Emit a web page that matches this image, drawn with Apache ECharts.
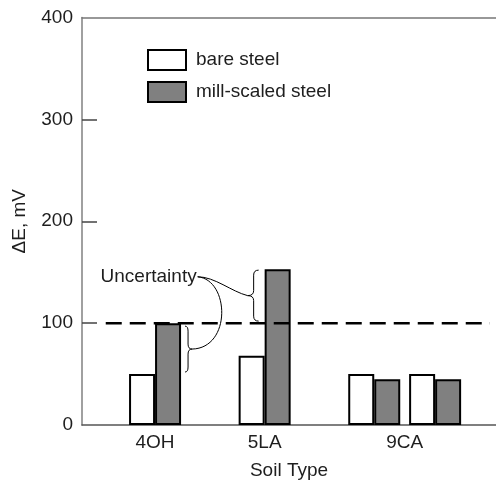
<!DOCTYPE html>
<html>
<head>
<meta charset="utf-8">
<script src="https://cdn.jsdelivr.net/npm/echarts@6/dist/echarts.min.js"></script>
<style>
  html, body { margin: 0; padding: 0; background: #fff; }
  #chart { width: 496px; height: 485px; }
</style>
</head>
<body>
<div id="chart"></div>
<script>
// Soil types and where their labels sit along the x scale
const soilTypes = ['4OH', '5LA', '9CA'];
const soilLabelPos = [6, 15, 26.5];

// Bar pairs (two pairs were measured for 9CA)
const barPos = [6, 15, 24, 29];
const bareSteel = [50, 68, 50, 50];
const millScaledSteel = [100, 153, 45, 45];

// Y-axis scale
const yMin = 0;
const yMax = 400;
const yStep = 100;
const yTickMarks = [100, 200, 300];

// Criterion line and its horizontal extent on the x scale
const criterion = 100;
const criterionSpan = [1.95, 33.5];

// Uncertainty ranges marked with braces: [bar position, low, high]
const uncert5LA = [15, 100, 153];
const uncert4OH = [6, 52, 100];

const FONT = '"Liberation Sans", Arial, Helvetica, sans-serif';
const TXT = '#1e1e1e';

const chart = echarts.init(document.getElementById('chart'), null, { renderer: 'canvas' });

chart.setOption({
  animation: false,
  backgroundColor: '#fff',
  textStyle: { fontFamily: FONT },
  grid: { left: 82, right: 0, top: 17.5, bottom: 58.3, containLabel: false },
  legend: {
    orient: 'vertical',
    left: 147,
    top: 49,
    padding: 0,
    icon: 'rect',
    itemWidth: 38,
    itemHeight: 20,
    itemGap: 10,
    selectedMode: false,
    textStyle: { fontSize: 19, color: TXT, fontFamily: FONT, padding: [0, 0, 0, 5] },
    data: ['bare steel', 'mill-scaled steel']
  },
  xAxis: [
    {
      type: 'value',
      min: 0,
      max: 34,
      position: 'bottom',
      splitLine: { show: false },
      axisTick: { show: false },
      axisLine: { show: true, lineStyle: { color: '#555', width: 1.5 } },
      axisLabel: {
        customValues: soilLabelPos,
        formatter: function (v) {
          const i = soilLabelPos.indexOf(v);
          return i >= 0 ? soilTypes[i] : '';
        },
        fontSize: 19,
        color: TXT,
        fontFamily: FONT,
        margin: 8
      },
      name: 'Soil Type',
      nameLocation: 'middle',
      nameGap: 36,
      nameTextStyle: { fontSize: 19, color: TXT, fontFamily: FONT }
    },
    {
      type: 'value',
      min: 0,
      max: 34,
      position: 'top',
      splitLine: { show: false },
      axisTick: { show: false },
      axisLabel: { show: false },
      axisLine: { show: true, lineStyle: { color: '#777', width: 1.5 } }
    }
  ],
  yAxis: {
    type: 'value',
    min: yMin,
    max: yMax,
    interval: yStep,
    splitLine: { show: false },
    axisLine: { show: true, lineStyle: { color: '#808080', width: 1.5 } },
    axisTick: {
      show: true,
      inside: true,
      length: 15,
      customValues: yTickMarks,
      lineStyle: { color: '#444', width: 1.5 }
    },
    axisLabel: { fontSize: 19, color: TXT, fontFamily: FONT, margin: 9 },
    name: 'ΔE, mV',
    nameLocation: 'middle',
    nameGap: 53,
    nameTextStyle: { fontSize: 19, color: TXT, fontFamily: FONT }
  },
  series: [
    {
      name: 'bare steel',
      type: 'bar',
      xAxisIndex: 0,
      barWidth: 26,
      barGap: '0%',
      itemStyle: { color: '#fff', borderColor: '#000', borderWidth: 2 },
      data: barPos.map((p, i) => [p, bareSteel[i]])
    },
    {
      name: 'mill-scaled steel',
      type: 'bar',
      xAxisIndex: 0,
      barWidth: 26,
      barGap: '0%',
      itemStyle: { color: '#808080', borderColor: '#000', borderWidth: 2 },
      data: barPos.map((p, i) => [p, millScaledSteel[i]])
    }
  ]
});

// ---- criterion line and "Uncertainty" annotation ----
function px(x, y) {
  return chart.convertToPixel({ xAxisIndex: 0, yAxisIndex: 0 }, [x, y]);
}

const thin = { stroke: '#000', lineWidth: 1, fill: null };

// Curly brace built from quadratic curves and straight segments.
// Spine at xs, arms end toward dir (+1 right, -1 left), tip points the other way.
function brace(xs, yTop, yBot, dir, arm, tipLen) {
  const r = 5;
  const ex = xs + dir * arm;
  const tx = xs - dir * tipLen;
  const ym = (yTop + yBot) / 2;
  const q = (x1, y1, cx, cy, x2, y2) => ({
    type: 'bezierCurve',
    shape: { x1: x1, y1: y1, cpx1: cx, cpy1: cy, x2: x2, y2: y2 },
    style: thin
  });
  const l = (x1, y1, x2, y2) => ({
    type: 'line',
    shape: { x1: x1, y1: y1, x2: x2, y2: y2 },
    style: thin
  });
  return {
    parts: [
      q(ex, yTop, xs, yTop, xs, yTop + r),
      l(xs, yTop + r, xs, ym - r),
      q(xs, ym - r, xs, ym, tx, ym),
      q(tx, ym, xs, ym, xs, ym + r),
      l(xs, ym + r, xs, yBot - r),
      q(xs, yBot - r, xs, yBot, ex, yBot)
    ],
    tip: [tx, ym]
  };
}

const c0 = px(criterionSpan[0], criterion);
const c1 = px(criterionSpan[1], criterion);

const anchor = px(9.5, 145.5);
const b1Top = px(uncert5LA[0], uncert5LA[2]);
const b1Bot = px(uncert5LA[0], uncert5LA[1]);
const brace1 = brace(b1Top[0] - 11, b1Top[1] + 1, b1Bot[1] - 2, 1, 5, 6);

const b2Top = px(uncert4OH[0], uncert4OH[2]);
const b2Bot = px(uncert4OH[0], uncert4OH[1]);
const brace2 = brace(b2Top[0] + 33, b2Top[1] + 3, b2Bot[1], -1, 3, 4);

const A = anchor, T1 = brace1.tip, T2 = brace2.tip;

chart.setOption({
  graphic: [
    {
      type: 'line',
      z: 10,
      shape: { x1: c0[0], y1: c0[1], x2: c1[0], y2: c1[1] },
      style: { stroke: '#000', lineWidth: 2.5, lineDash: [16, 8] }
    },
    {
      type: 'text',
      x: A[0] - 1,
      y: A[1],
      style: {
        text: 'Uncertainty',
        fill: TXT,
        font: '19px ' + FONT,
        textAlign: 'right',
        textVerticalAlign: 'middle'
      }
    },
    {
      type: 'bezierCurve',
      shape: {
        x1: A[0], y1: A[1],
        cpx1: A[0] + 17, cpy1: A[1],
        cpx2: T1[0] - 16, cpy2: T1[1] - 4,
        x2: T1[0], y2: T1[1]
      },
      style: thin
    },
    {
      type: 'bezierCurve',
      shape: {
        x1: A[0], y1: A[1],
        cpx1: A[0] + 32, cpy1: A[1] + 3,
        cpx2: A[0] + 34, cpy2: T2[1] - 1,
        x2: T2[0], y2: T2[1]
      },
      style: thin
    }
  ].concat(brace1.parts, brace2.parts)
});
</script>
</body>
</html>
